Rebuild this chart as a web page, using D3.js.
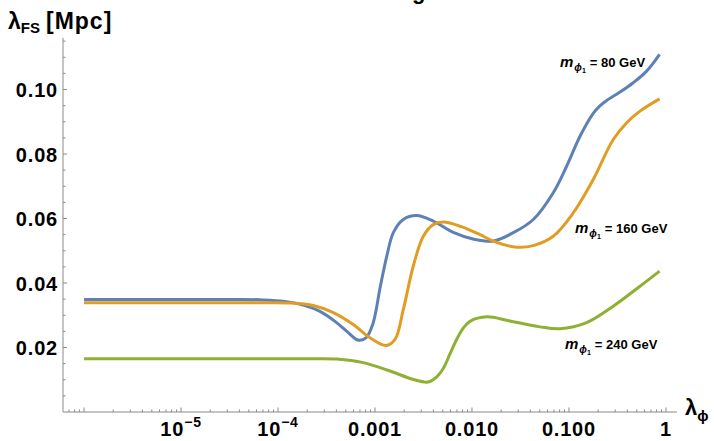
<!DOCTYPE html>
<html><head><meta charset="utf-8">
<script src="https://cdn.jsdelivr.net/npm/d3@7"></script>
<style>
body{margin:0;background:#fff}
svg text{font-family:"Liberation Sans",Arial,sans-serif;font-weight:bold;fill:#000}
</style>
</head><body>
<svg id="c" width="714" height="441"></svg>
<script>
// ---- data ----
const lambdaBlue = [1e-6, 4e-6, 1.5e-5, 3.5e-5, 6.5e-5, 1.18e-4, 1.9e-4, 2.71e-4, 3.87e-4, 5.27e-4, 6.68e-4, 8.07e-4, 9.53e-4, 1.13e-3, 1.32e-3, 1.55e-3, 1.96e-3, 2.69e-3, 3.99e-3, 6.41e-3, 1.07e-2, 1.66e-2, 2.67e-2, 4.29e-2, 6.89e-2, 9.46e-2, 0.130, 0.178, 0.21, 0.245, 0.336, 0.460, 0.632, 0.86];
const fsBlue = [0.0349, 0.0349, 0.0349, 0.0349, 0.0348, 0.0343, 0.0330, 0.0312, 0.0281, 0.0247, 0.0223, 0.0230, 0.0274, 0.0386, 0.0482, 0.0557, 0.0597, 0.0609, 0.0592, 0.0557, 0.0535, 0.0530, 0.0556, 0.0597, 0.0680, 0.0762, 0.0855, 0.0926, 0.0950, 0.0966, 0.0992, 0.1021, 0.1057, 0.1109];

const lambdaOrange = [1e-6, 4e-6, 1.5e-5, 4e-5, 8e-5, 1.33e-4, 2.31e-4, 3.72e-4, 5.97e-4, 8.87e-4, 1.30e-3, 1.61e-3, 1.96e-3, 2.48e-3, 3.15e-3, 3.99e-3, 5.06e-3, 7.89e-3, 1.21e-2, 1.66e-2, 2.89e-2, 4.29e-2, 6.89e-2, 0.111, 0.178, 0.286, 0.394, 0.540, 0.86];
const fsOrange = [0.0339, 0.0339, 0.0339, 0.0339, 0.0339, 0.0338, 0.0330, 0.0308, 0.0271, 0.0230, 0.0206, 0.0225, 0.0318, 0.0452, 0.0545, 0.0581, 0.0589, 0.0574, 0.0550, 0.0530, 0.0511, 0.0516, 0.0545, 0.0618, 0.0721, 0.0845, 0.0897, 0.0933, 0.0971];

const lambdaGreen = [1e-6, 4e-6, 1.5e-5, 4e-5, 1e-4, 2.2e-4, 4.03e-4, 7.57e-4, 1.43e-3, 2.48e-3, 3.52e-3, 4.36e-3, 5.06e-3, 5.93e-3, 6.95e-3, 8.13e-3, 9.53e-3, 1.42e-2, 2.47e-2, 5.02e-2, 8.07e-2, 0.152, 0.286, 0.540, 0.86];
const fsGreen = [0.0165, 0.0165, 0.0165, 0.0165, 0.0165, 0.0165, 0.0164, 0.0153, 0.0127, 0.0101, 0.0093, 0.0110, 0.0135, 0.0180, 0.0225, 0.0260, 0.0281, 0.0295, 0.0282, 0.0264, 0.0258, 0.0277, 0.0328, 0.0390, 0.0437];

const seriesMasses = ["80", "160", "240"];
const xTickValues = [1e-5, 1e-4, 1e-3, 1e-2, 1e-1, 1];
const xTickLabels = [["10", "\u22125"], ["10", "\u22124"], ["0.001", ""], ["0.010", ""], ["0.100", ""], ["1", ""]];
const yTickValues = [0.02, 0.04, 0.06, 0.08, 0.10];
const yTickLabels = ["0.02", "0.04", "0.06", "0.08", "0.10"];

// ---- layout ----
const svg = d3.select("#c");
const x = d3.scaleLog().domain([6.07e-7, 1.3]).range([63, 677]);
const y = d3.scaleLinear().domain([0, 0.116]).range([412, 37.9]);
const axisColor = "#8a8a8a";
const colors = ["#5E81B5", "#E19C24", "#8FB032"];

// title fragment cut off at top (as in the reference)
svg.append("text").attr("x", 412).attr("y", -1).attr("font-size", 22).text("g");

// axes lines
svg.append("line").attr("x1", x.range()[0]).attr("x2", x.range()[1]).attr("y1", y(0)).attr("y2", y(0))
  .attr("stroke", axisColor).attr("stroke-width", 1);
svg.append("line").attr("x1", x.range()[0]).attr("x2", x.range()[0]).attr("y1", y(0)).attr("y2", y.range()[1])
  .attr("stroke", axisColor).attr("stroke-width", 1);

// x ticks
const xMajor = d3.range(-6, 1).map(e => Math.pow(10, e));
const xMinor = [];
for (let e = -7; e <= 0; e++) {
  for (let k = 2; k <= 9; k++) {
    const v = k * Math.pow(10, e);
    if (v > x.domain()[0] && v < x.domain()[1]) xMinor.push(v);
  }
}
svg.selectAll(".xmaj").data(xMajor).enter().append("line")
  .attr("x1", d => x(d)).attr("x2", d => x(d)).attr("y1", y(0)).attr("y2", y(0) - 4.5)
  .attr("stroke", axisColor);
svg.selectAll(".xmin").data(xMinor).enter().append("line")
  .attr("x1", d => x(d)).attr("x2", d => x(d)).attr("y1", y(0)).attr("y2", y(0) - 2.5)
  .attr("stroke", axisColor);

// y ticks
const yMinor = d3.range(1, 24).map(i => i * 0.005).filter(v => Math.round(v * 1000) % 20 !== 0);
svg.selectAll(".ymaj").data(yTickValues).enter().append("line")
  .attr("x1", x.range()[0]).attr("x2", x.range()[0] + 4).attr("y1", d => y(d)).attr("y2", d => y(d))
  .attr("stroke", axisColor);
svg.selectAll(".ymin").data(yMinor).enter().append("line")
  .attr("x1", x.range()[0]).attr("x2", x.range()[0] + 2.5).attr("y1", d => y(d)).attr("y2", d => y(d))
  .attr("stroke", axisColor);

// y tick labels
svg.selectAll(".ylab").data(yTickValues).enter().append("text")
  .attr("x", 58).attr("y", d => y(d) + 7.5).attr("text-anchor", "end")
  .attr("font-size", 20).attr("letter-spacing", 0.8)
  .text((d, i) => yTickLabels[i]);

// x tick labels
xTickValues.forEach((v, i) => {
  const t = svg.append("text").attr("x", x(v)).attr("y", 436).attr("text-anchor", "middle")
    .attr("font-size", 20).attr("letter-spacing", 0.8);
  t.append("tspan").text(xTickLabels[i][0]);
  if (xTickLabels[i][1]) {
    t.append("tspan").attr("font-size", 14).attr("dy", -9).text(xTickLabels[i][1]);
  }
});

// axis titles
const yt = svg.append("text").attr("x", 8).attr("y", 29).attr("font-size", 23);
yt.append("tspan").text("\u03bb");
yt.append("tspan").attr("font-size", 15).attr("dy", 4).text("FS");
yt.append("tspan").attr("dy", -4).attr("dx", 6).attr("letter-spacing", 1).text("[Mpc]");

const xt = svg.append("text").attr("x", 685).attr("y", 415).attr("font-size", 22);
xt.append("tspan").text("\u03bb");
xt.append("tspan").attr("font-size", 15).attr("dy", 6).text("\u03d5");

// curves
const line = d3.line().x(d => x(d[0])).y(d => y(d[1])).curve(d3.curveCatmullRom.alpha(0.5));
const series = [
  {lam: lambdaBlue, fs: fsBlue},
  {lam: lambdaOrange, fs: fsOrange},
  {lam: lambdaGreen, fs: fsGreen}
];
series.forEach((s, i) => {
  const pts = s.lam.map((l, j) => [l, s.fs[j]]);
  svg.append("path").datum(pts).attr("d", line)
    .attr("fill", "none").attr("stroke", colors[i]).attr("stroke-width", 3)
    .attr("stroke-linejoin", "round").attr("stroke-linecap", "butt");
});

// curve labels
const labelPos = [[560, 67], [575, 233], [565, 349]];
seriesMasses.forEach((m, i) => {
  const t = svg.append("text").attr("x", labelPos[i][0]).attr("y", labelPos[i][1]).attr("font-size", 13);
  t.append("tspan").attr("font-style", "italic").attr("font-size", 15).text("m");
  t.append("tspan").attr("font-size", 10).attr("dy", 4).attr("dx", 1).attr("font-style", "italic").text("\u03d5");
  t.append("tspan").attr("font-size", 7).attr("dy", 2).text("1");
  t.append("tspan").attr("dy", -6).attr("dx", 4).text("= " + m + " GeV");
});
</script>
</body></html>
